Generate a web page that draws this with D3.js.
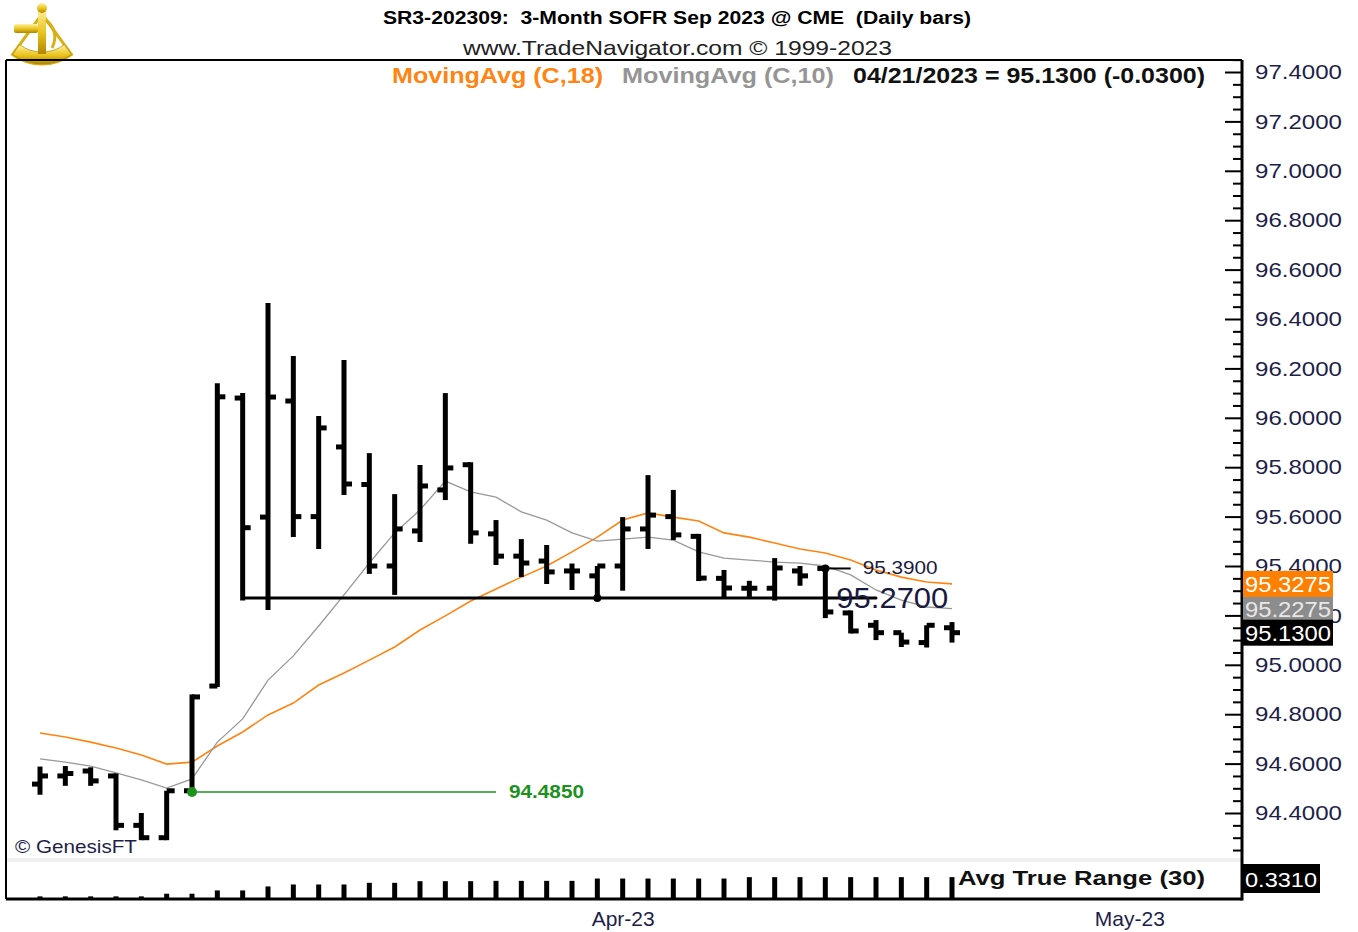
<!DOCTYPE html>
<html>
<head>
<meta charset="utf-8">
<script src="https://cdn.jsdelivr.net/npm/d3@7"></script>
<style>
  body { margin: 0; background: #fff; }
  svg { display: block; font-family: "Liberation Sans", Arial, sans-serif; }
</style>
</head>
<body>
<div class="chart"></div>
<script>
// daily bars, SR3 Sep 2023
var dates = ["2023-03-01","2023-03-02","2023-03-03","2023-03-06","2023-03-07","2023-03-08","2023-03-09","2023-03-10",
  "2023-03-13","2023-03-14","2023-03-15","2023-03-16","2023-03-17","2023-03-20","2023-03-21","2023-03-22","2023-03-23",
  "2023-03-24","2023-03-27","2023-03-28","2023-03-29","2023-03-30","2023-03-31","2023-04-03","2023-04-04","2023-04-05",
  "2023-04-06","2023-04-10","2023-04-11","2023-04-12","2023-04-13","2023-04-14","2023-04-17","2023-04-18","2023-04-19",
  "2023-04-20","2023-04-21"];
var opens  = [94.517,94.55,94.57,94.55,94.35,94.30,94.49,94.914,96.08,95.598,96.068,95.60,95.882,95.73,95.40,95.542,95.708,
  95.81,95.53,95.44,95.42,95.38,95.36,95.40,95.55,95.60,95.52,95.35,95.31,95.31,95.38,95.39,95.21,95.16,95.13,95.09,95.15];
var highs  = [94.588,94.59,94.585,94.56,94.40,94.49,94.88,96.14,96.10,96.465,96.25,96.007,96.234,95.857,95.691,95.809,96.10,
  95.82,95.586,95.509,95.485,95.41,95.40,95.598,95.768,95.708,95.53,95.384,95.34,95.432,95.40,95.40,95.22,95.181,95.13,95.16,95.173];
var lows   = [94.474,94.51,94.51,94.33,94.29,94.29,94.485,94.91,95.26,95.222,95.517,95.469,95.687,95.368,95.283,95.497,95.667,
  95.49,95.404,95.355,95.327,95.303,95.265,95.30,95.469,95.505,95.339,95.27,95.275,95.26,95.32,95.189,95.127,95.10,95.072,95.07,95.09];
var closes = [94.55,94.56,94.53,94.35,94.30,94.49,94.87,96.085,95.555,96.084,95.60,95.959,95.732,95.40,95.55,95.724,95.797,
  95.534,95.44,95.412,95.376,95.38,95.40,95.55,95.606,95.526,95.351,95.311,95.31,95.392,95.36,95.214,95.137,95.13,95.092,95.16,95.13];

// moving averages as drawn
var ma18 = [94.724,94.708,94.687,94.663,94.635,94.598,94.606,94.671,94.728,94.797,94.845,94.918,94.967,95.019,95.072,95.141,
  95.198,95.258,95.307,95.355,95.40,95.457,95.517,95.586,95.615,95.598,95.582,95.534,95.517,95.493,95.469,95.453,95.424,
  95.384,95.355,95.335,95.3275];
var ma10 = [94.619,94.606,94.590,94.562,94.534,94.501,94.538,94.687,94.781,94.938,95.036,95.157,95.283,95.412,95.534,95.627,
  95.744,95.700,95.679,95.619,95.586,95.534,95.501,95.509,95.517,95.505,95.457,95.432,95.424,95.416,95.412,95.40,95.364,
  95.303,95.262,95.234,95.2275];

// avg true range (30)
var atr = [0.04,0.04,0.04,0.04,0.04,0.08,0.08,0.13,0.13,0.19,0.22,0.22,0.22,0.245,0.245,0.27,0.27,0.27,0.275,0.275,0.275,
  0.275,0.31,0.31,0.31,0.31,0.31,0.31,0.331,0.331,0.331,0.331,0.331,0.331,0.331,0.331,0.331];

var priceTicks = d3.range(94.4, 97.41, 0.2);
var monthLabels = ["Apr-23", "May-23"];
var monthIdx = [23, 43];

// annotation levels
var lowMark = { idx: 6, end: 18, value: 94.485, label: "94.4850" };
var supMark = { idx: 8, end: 33, dot: 22, value: 95.27, label: "95.2700" };
var resMark = { idx: 31, end: 32, value: 95.39, label: "95.3900" };

var W = 1358, H = 932;
var frame = { left: 6, top: 60, right: 1242, mainBottom: 858, lowTop: 862, lowBottom: 899 };

var svg = d3.select(".chart").append("svg").attr("width", W).attr("height", H);

var x = d3.scaleLinear().domain([0, 36]).range([40, 952]);
var y = d3.scaleLinear().domain([94.4, 97.4]).range([813, 72]);
var yA = d3.scaleLinear().domain([0, 0.5]).range([frame.lowBottom, 866]);

// logo (sextant)
var gold = svg.append("defs").append("linearGradient").attr("id", "gold")
  .attr("x1", 0).attr("y1", 0).attr("x2", 0).attr("y2", 1);
gold.append("stop").attr("offset", "0%").attr("stop-color", "#fff3a0");
gold.append("stop").attr("offset", "55%").attr("stop-color", "#e9c21c");
gold.append("stop").attr("offset", "100%").attr("stop-color", "#b38600");
var logo = svg.append("g").attr("transform", "translate(42,14)");
logo.append("path")
  .attr("d", d3.arc().innerRadius(0).outerRadius(50).startAngle(Math.PI * 0.8).endAngle(Math.PI * 1.2)())
  .attr("fill", "none").attr("stroke", "#d8b015").attr("stroke-width", 3);
logo.append("path")
  .attr("d", d3.arc().innerRadius(38).outerRadius(50).startAngle(Math.PI * 0.8).endAngle(Math.PI * 1.2)())
  .attr("fill", "url(#gold)").attr("stroke", "#a67c00").attr("stroke-width", 0.6);
logo.append("rect").attr("x", -4).attr("y", -6).attr("width", 8).attr("height", 46).attr("fill", "url(#gold)");
logo.append("rect").attr("x", -28).attr("y", 10).attr("width", 24).attr("height", 9).attr("rx", 2).attr("fill", "url(#gold)");
logo.append("circle").attr("cx", 0).attr("cy", -6).attr("r", 5).attr("fill", "url(#gold)");
logo.append("path").attr("d", "M4,6 Q18,18 10,34").attr("fill", "none").attr("stroke", "#d8b015").attr("stroke-width", 3);

// titles
svg.append("text").attr("x", 383).attr("y", 24).attr("font-size", 18).attr("font-weight", "bold")
  .style("white-space", "pre")
  .attr("textLength", 588).attr("lengthAdjust", "spacingAndGlyphs")
  .text("SR3-202309:  3-Month SOFR Sep 2023 @ CME  (Daily bars)");
svg.append("text").attr("x", 463).attr("y", 55).attr("font-size", 21).attr("fill", "#222")
  .attr("textLength", 429).attr("lengthAdjust", "spacingAndGlyphs")
  .text("www.TradeNavigator.com © 1999-2023");

var legend = [
  { t: "MovingAvg (C,18)", x: 392, w: 211, c: "#ff8412" },
  { t: "MovingAvg (C,10)", x: 622, w: 212, c: "#959595" },
  { t: "04/21/2023 = 95.1300 (-0.0300)", x: 853, w: 352, c: "#111" }
];
svg.selectAll(".leg").data(legend).enter().append("text")
  .attr("x", d => d.x).attr("y", 83).attr("font-size", 22).attr("font-weight", "bold")
  .attr("fill", d => d.c).attr("textLength", d => d.w).attr("lengthAdjust", "spacingAndGlyphs")
  .text(d => d.t);

// frame
svg.append("line").attr("x1", frame.left).attr("x2", frame.right).attr("y1", frame.top).attr("y2", frame.top)
  .attr("stroke", "#000").attr("stroke-width", 2);
svg.append("line").attr("x1", frame.left).attr("x2", frame.left).attr("y1", frame.top).attr("y2", frame.lowBottom)
  .attr("stroke", "#000").attr("stroke-width", 2);
svg.append("rect").attr("x", frame.left + 1).attr("y", frame.mainBottom).attr("width", frame.right - frame.left - 2)
  .attr("height", frame.lowTop - frame.mainBottom).attr("fill", "#f0f0f0");
svg.append("line").attr("x1", frame.left).attr("x2", frame.right).attr("y1", frame.lowBottom).attr("y2", frame.lowBottom)
  .attr("stroke", "#000").attr("stroke-width", 3);

// right price axis
var yAxis = d3.axisRight(y).tickValues(priceTicks).tickFormat(d3.format(".4f"))
  .tickSizeInner(-17).tickSizeOuter(0).tickPadding(13);
var ga = svg.append("g").attr("transform", `translate(${frame.right},0)`).call(yAxis);
ga.select(".domain").remove();
ga.selectAll(".tick line").attr("stroke", "#000").attr("stroke-width", 2);
ga.selectAll(".tick text").attr("font-size", 21).attr("fill", "#1e1e4a")
  .attr("font-family", "Liberation Sans, Arial, sans-serif")
  .attr("textLength", 87).attr("lengthAdjust", "spacingAndGlyphs");

var minorTicks = d3.range(94.25, 97.46, 0.05).filter(v => Math.abs(Math.round(v * 5) - v * 5) > 0.01);
var gm = svg.append("g").attr("transform", `translate(${frame.right},0)`)
  .call(d3.axisRight(y).tickValues(minorTicks).tickSize(-9).tickFormat(""));
gm.select(".domain").remove();
gm.selectAll(".tick line").attr("stroke", "#000").attr("stroke-width", 2);

svg.append("line").attr("x1", frame.right).attr("x2", frame.right).attr("y1", frame.top).attr("y2", frame.lowBottom + 1.5)
  .attr("stroke", "#000").attr("stroke-width", 3);

// x axis month labels
var xAxis = d3.axisBottom(x).tickValues(monthIdx).tickFormat((d, i) => monthLabels[i]).tickSize(0).tickPadding(0);
var gx = svg.append("g").attr("transform", "translate(0,911)").call(xAxis);
gx.select(".domain").remove();
gx.selectAll("text").attr("font-size", 21).attr("fill", "#1e1e4a")
  .attr("font-family", "Liberation Sans, Arial, sans-serif");

// moving averages
var idx = d3.range(dates.length);
var line = (arr) => d3.line().x(i => x(i)).y(i => y(arr[i]))(idx);
svg.append("path").attr("d", line(ma18)).attr("fill", "none").attr("stroke", "#ff8412").attr("stroke-width", 1.6);
svg.append("path").attr("d", line(ma10)).attr("fill", "none").attr("stroke", "#999").attr("stroke-width", 1.3);

// annotation lines
svg.append("line").attr("x1", x(lowMark.idx)).attr("x2", x(lowMark.end))
  .attr("y1", y(lowMark.value)).attr("y2", y(lowMark.value)).attr("stroke", "#1c921c").attr("stroke-width", 1.5);
svg.append("text").attr("x", x(lowMark.end) + 13).attr("y", y(lowMark.value) + 6).attr("font-size", 18)
  .attr("font-weight", "bold").attr("fill", "#1c921c").attr("textLength", 75).attr("lengthAdjust", "spacingAndGlyphs")
  .text(lowMark.label);

svg.append("line").attr("x1", x(supMark.idx)).attr("x2", x(supMark.end))
  .attr("y1", y(supMark.value)).attr("y2", y(supMark.value)).attr("stroke", "#000").attr("stroke-width", 3)
  .attr("stroke-linecap", "round");
svg.append("line").attr("x1", x(resMark.idx)).attr("x2", x(resMark.end))
  .attr("y1", y(resMark.value)).attr("y2", y(resMark.value)).attr("stroke", "#000").attr("stroke-width", 2);

// OHLC bars
var bars = svg.append("g").selectAll("g").data(idx).enter().append("g");
bars.append("line").attr("x1", i => x(i)).attr("x2", i => x(i))
  .attr("y1", i => y(highs[i])).attr("y2", i => y(lows[i])).attr("stroke", "#000").attr("stroke-width", 5);
bars.append("line").attr("x1", i => x(i) - 8).attr("x2", i => x(i))
  .attr("y1", i => y(opens[i])).attr("y2", i => y(opens[i])).attr("stroke", "#000").attr("stroke-width", 5);
bars.append("line").attr("x1", i => x(i)).attr("x2", i => x(i) + 8)
  .attr("y1", i => y(closes[i])).attr("y2", i => y(closes[i])).attr("stroke", "#000").attr("stroke-width", 5);

// pivot dots
svg.append("circle").attr("cx", x(lowMark.idx)).attr("cy", y(lowMark.value)).attr("r", 5).attr("fill", "#1c921c");
svg.append("circle").attr("cx", x(supMark.dot)).attr("cy", y(supMark.value)).attr("r", 4).attr("fill", "#000");
svg.append("circle").attr("cx", x(resMark.idx)).attr("cy", y(resMark.value)).attr("r", 4).attr("fill", "#000");

svg.append("text").attr("x", x(resMark.end) + 12).attr("y", y(resMark.value) + 6).attr("font-size", 18)
  .attr("fill", "#1a1a40").attr("textLength", 75).attr("lengthAdjust", "spacingAndGlyphs").text(resMark.label);
svg.append("text").attr("x", x(31) + 11).attr("y", y(supMark.value) + 10).attr("font-size", 29)
  .attr("fill", "#1a1a40").attr("textLength", 112).attr("lengthAdjust", "spacingAndGlyphs").text(supMark.label);

svg.append("text").attr("x", 15).attr("y", 853).attr("font-size", 19).attr("fill", "#1e1e4a")
  .attr("textLength", 122).attr("lengthAdjust", "spacingAndGlyphs").text("© GenesisFT");

// ATR panel
svg.append("g").selectAll("rect").data(idx).enter().append("rect")
  .attr("x", i => x(i) - 2.5).attr("width", 5)
  .attr("y", i => yA(atr[i])).attr("height", i => frame.lowBottom - yA(atr[i])).attr("fill", "#000");
svg.append("text").attr("x", 958).attr("y", 885).attr("font-size", 21).attr("font-weight", "bold")
  .attr("fill", "#111").attr("textLength", 247).attr("lengthAdjust", "spacingAndGlyphs").text("Avg True Range (30)");

// value boxes on the price axis
var boxes = [
  { v: ma10[ma10.length - 1], fill: "#8c8c8c", tc: "#e8e8e8" },
  { v: ma18[ma18.length - 1], fill: "#ff7f00", tc: "#fff" },
  { v: closes[closes.length - 1], fill: "#000", tc: "#fff" }
];
var bx = svg.append("g").selectAll("g").data(boxes).enter().append("g");
bx.append("rect").attr("x", frame.right + 1).attr("y", d => y(d.v) - 13).attr("width", 90).attr("height", 26)
  .attr("fill", d => d.fill);
bx.append("text").attr("x", frame.right + 3).attr("y", d => y(d.v) + 8).attr("font-size", 22)
  .attr("fill", d => d.tc).attr("textLength", 86).attr("lengthAdjust", "spacingAndGlyphs")
  .text(d => d3.format(".4f")(d.v));

svg.append("rect").attr("x", frame.right + 1).attr("y", 864).attr("width", 77).attr("height", 29).attr("fill", "#000");
svg.append("text").attr("x", frame.right + 3).attr("y", 887).attr("font-size", 21).attr("fill", "#fff")
  .attr("textLength", 72).attr("lengthAdjust", "spacingAndGlyphs").text(d3.format(".4f")(atr[atr.length - 1]));
</script>
</body>
</html>
